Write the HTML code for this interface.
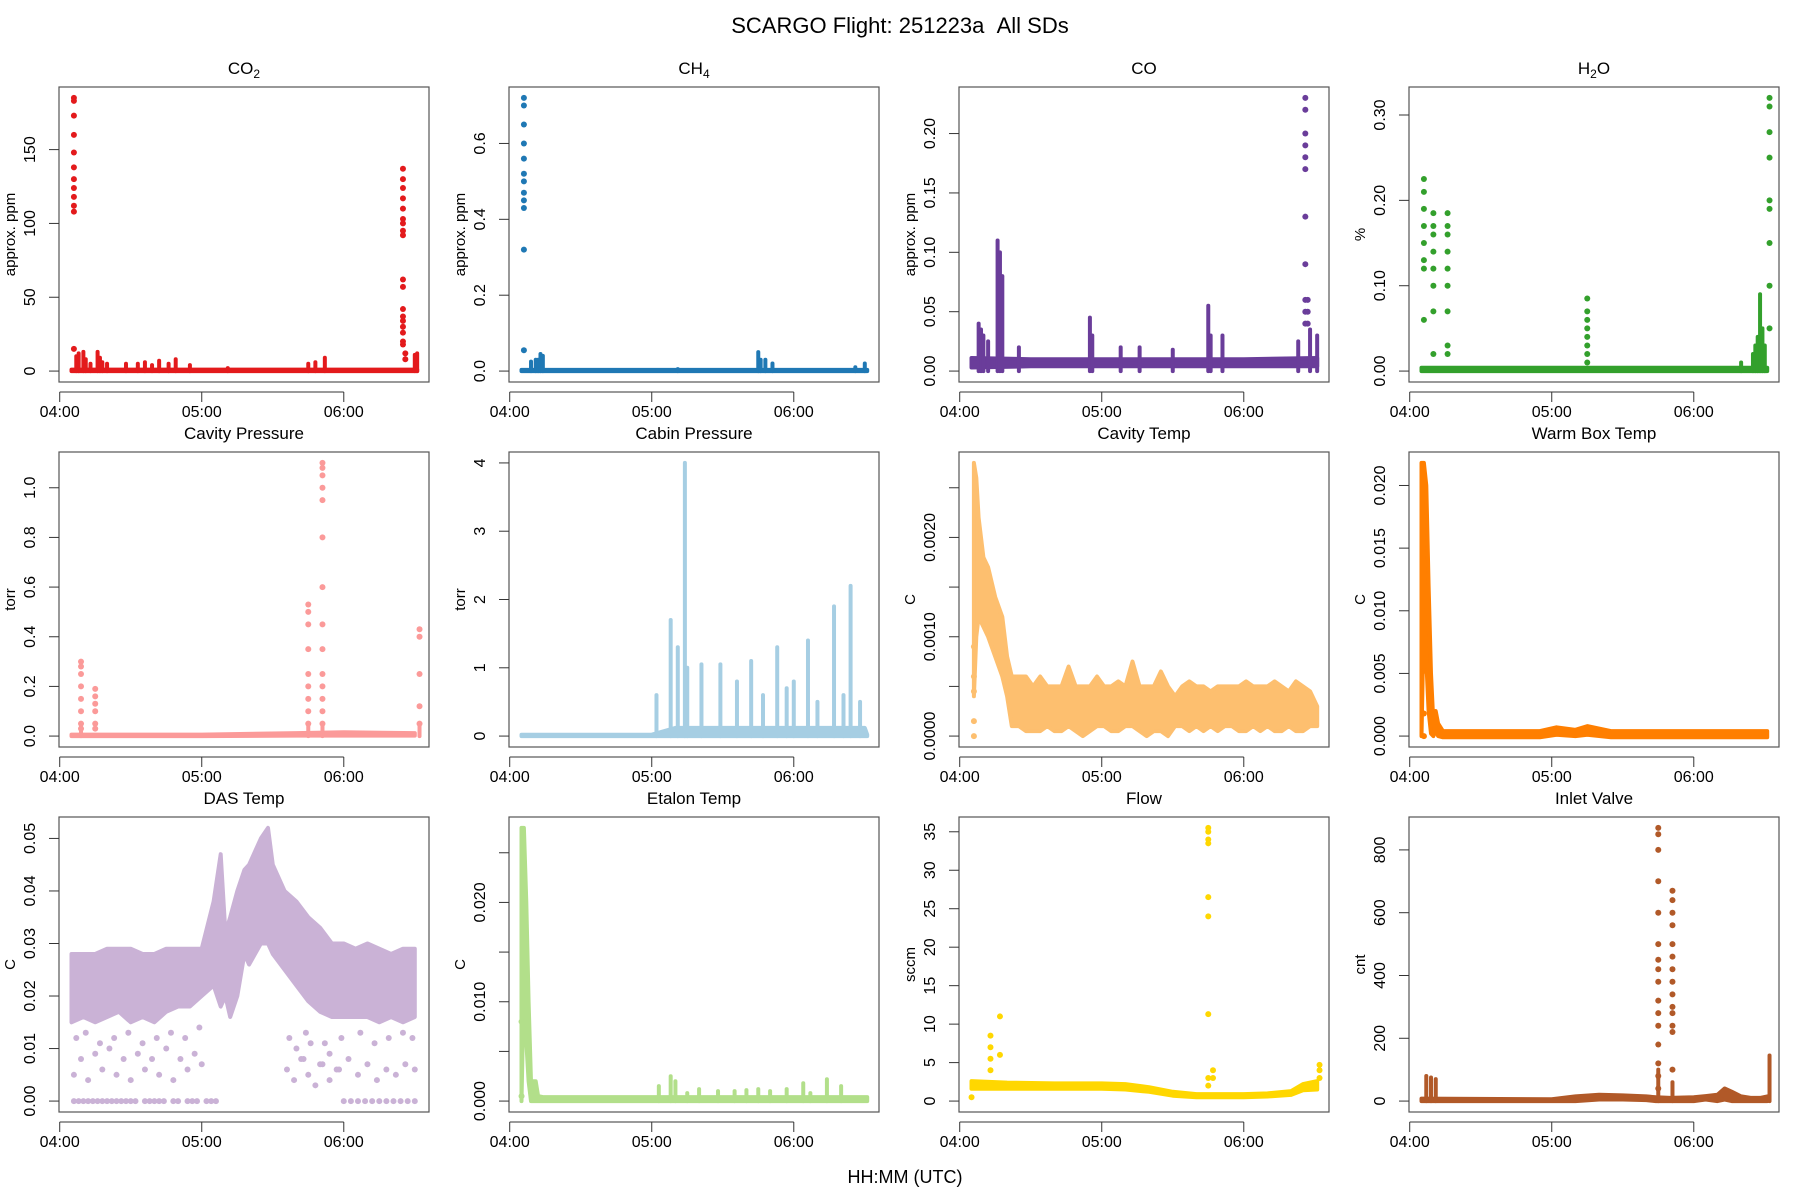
<!DOCTYPE html>
<html><head><meta charset="utf-8"><title>SCARGO Flight 251223a All SDs</title>
<style>
html,body{margin:0;padding:0;background:#fff;}
svg{display:block;font-family:"Liberation Sans",Arial,sans-serif;}
</style></head>
<body>
<svg id="fig" width="1800" height="1200" viewBox="0 0 1800 1200" xmlns="http://www.w3.org/2000/svg">
<rect x="0" y="0" width="1800" height="1200" fill="#fff"/>
<text x="900" y="33" font-size="22" text-anchor="middle" style="white-space:pre">SCARGO Flight: 251223a&#160;&#160;All SDs</text>
<text x="905" y="1183" font-size="18" text-anchor="middle">HH:MM (UTC)</text>
</svg>
<script>
// time in minutes after 04:00
const xTickT = [0, 60, 120];
const xTickLabels = ["04:00", "05:00", "06:00"];

// ---- CO2 ----
const co2BandT = [5, 151];
const co2BandLo = [0, 0];
const co2BandHi = [1, 1];
const co2BarT = [7, 8, 10, 11, 13, 16, 17, 18, 20, 28, 33, 36, 39, 42, 46, 49, 55, 71, 105, 108, 112, 150, 151];
const co2BarV = [10, 12, 13, 8, 5, 13, 9, 6, 5, 5, 5, 6, 4, 7, 5, 8, 4, 2, 5, 6, 9, 11, 12];
const co2DotT = [6,6,6,6,6,6,6,6,6,6,6,6, 145,145,145,145,145,145,145,145,145,145,145,145,145,145,145,145,145,145,146,146];
const co2DotV = [185,183,173,160,148,138,130,124,118,112,108,15, 137,130,124,117,110,103,100,95,92,62,57,42,37,34,30,26,20,18,12,8];

// ---- CH4 ----
const ch4BandT = [5, 151];
const ch4BandLo = [0, 0];
const ch4BandHi = [0.003, 0.003];
const ch4BarT = [9, 11, 12, 13, 14, 71, 105, 106, 108, 111, 146, 150];
const ch4BarV = [0.025, 0.03, 0.03, 0.045, 0.04, 0.005, 0.05, 0.03, 0.03, 0.02, 0.01, 0.02];
const ch4DotT = [6,6,6,6,6,6,6,6,6,6,6,6];
const ch4DotV = [0.72,0.70,0.65,0.60,0.56,0.52,0.50,0.47,0.45,0.43,0.32,0.055];

// ---- CO ----
const coBandT = [5, 30, 60, 90, 120, 151];
const coBandLo = [0.003, 0.004, 0.004, 0.004, 0.004, 0.004];
const coBandHi = [0.011, 0.01, 0.01, 0.01, 0.01, 0.011];
const coBarT = [8, 9, 10, 12, 16, 17, 18, 25, 55, 56, 68, 76, 90, 105, 106, 111, 143, 148, 151];
const coBarV = [0.04, 0.035, 0.03, 0.025, 0.11, 0.1, 0.08, 0.02, 0.045, 0.03, 0.02, 0.02, 0.018, 0.055, 0.03, 0.03, 0.025, 0.035, 0.03];
const coDotT = [146,146,146,146,146,146,146,146,146,146,146,147,147,147];
const coDotV = [0.23,0.22,0.20,0.19,0.18,0.17,0.13,0.09,0.06,0.05,0.04,0.06,0.05,0.04];

// ---- H2O ----
const h2oBandT = [5, 151];
const h2oBandLo = [0, 0];
const h2oBandHi = [0.004, 0.004];
const h2oBarT = [140, 145, 146, 147, 148, 149, 150];
const h2oBarV = [0.01, 0.02, 0.03, 0.04, 0.09, 0.05, 0.03];
const h2oDotT = [6,6,6,6,6,6,6,6, 10,10,10,10,10,10,10,10, 16,16,16,16,16,16,16,16,16, 75,75,75,75,75,75,75,75, 152,152,152,152,152,152,152,152,152];
const h2oDotV = [0.225,0.21,0.19,0.17,0.15,0.13,0.12,0.06, 0.185,0.17,0.16,0.14,0.12,0.10,0.07,0.02, 0.185,0.17,0.16,0.14,0.12,0.10,0.07,0.03,0.02, 0.085,0.07,0.06,0.05,0.04,0.03,0.02,0.01, 0.32,0.31,0.28,0.25,0.20,0.19,0.15,0.10,0.05];

// ---- Cavity Pressure ----
const cpBandT = [5, 60, 100, 120, 150];
const cpBandLo = [0, 0, 0.002, 0.002, 0.002];
const cpBandHi = [0.006, 0.006, 0.012, 0.015, 0.012];
const cpBarT = [9, 105, 111, 152];
const cpBarV = [0.04, 0.05, 0.05, 0.04];
const cpDotT = [9,9,9,9,9,9,9,9, 15,15,15,15,15,15, 105,105,105,105,105,105,105,105,105, 111,111,111,111,111,111,111,111,111,111,111,111,111,111, 152,152,152,152,152];
const cpDotV = [0.30,0.28,0.25,0.20,0.15,0.10,0.05,0.03, 0.19,0.16,0.13,0.10,0.05,0.03, 0.53,0.50,0.45,0.35,0.25,0.20,0.15,0.10,0.05, 1.10,1.08,1.05,1.00,0.95,0.80,0.60,0.45,0.35,0.25,0.20,0.15,0.10,0.05, 0.43,0.40,0.25,0.12,0.05];

// ---- Cabin Pressure ----
const cabBandT = [5, 60, 70, 150, 151];
const cabBandLo = [0, 0, 0, 0, 0];
const cabBandHi = [0.02, 0.02, 0.12, 0.12, 0.02];
const cabBarT = [62, 68, 71, 74, 75, 81, 89, 96, 102, 107, 113, 117, 120, 126, 130, 137, 141, 144, 148];
const cabBarV = [0.6, 1.7, 1.3, 4.0, 1.0, 1.05, 1.05, 0.8, 1.1, 0.6, 1.3, 0.7, 0.8, 1.4, 0.5, 1.9, 0.6, 2.2, 0.5];
const cabDotT = [];
const cabDotV = [];

// ---- Cavity Temp ----
const ctBandT = [6, 7, 8, 10, 12, 15, 18, 20, 22, 25, 28, 31, 34, 37, 40, 43, 46, 49, 52, 55, 58, 61, 64, 67, 70, 73, 76, 79, 82, 85, 88, 91, 94, 97, 100, 103, 106, 109, 112, 115, 118, 121, 124, 127, 130, 133, 136, 139, 142, 145, 148, 151];
const ctBandLo = [0.0004, 0.0010, 0.0012, 0.0011, 0.0010, 0.0008, 0.0006, 0.0004, 0.0001, 0.0001, 0.00005, 0.00005, 0.00005, 0.0001, 0.00005, 0.00005, 0.0001, 0.00005, 0.0, 0.00005, 0.0001, 0.0001, 0.00005, 0.00005, 0.0001, 0.0001, 0.00005, 0.0, 0.00005, 0.00005, 0.0, 0.0001, 0.0001, 0.00005, 0.0001, 0.00005, 0.0001, 0.00005, 0.0001, 0.0001, 0.00005, 0.00005, 0.0001, 0.00005, 0.0001, 0.00005, 0.00005, 0.0001, 0.00005, 0.00005, 0.0001, 0.0001];
const ctBandHi = [0.00275, 0.0026, 0.0022, 0.0018, 0.0017, 0.0014, 0.0012, 0.0008, 0.0006, 0.0006, 0.0006, 0.0005, 0.0006, 0.0005, 0.0005, 0.0005, 0.0007, 0.0005, 0.0005, 0.0005, 0.0006, 0.0005, 0.0005, 0.00055, 0.0005, 0.00075, 0.0005, 0.0005, 0.0005, 0.00065, 0.0005, 0.0004, 0.0005, 0.00055, 0.0005, 0.0005, 0.00045, 0.0005, 0.0005, 0.0005, 0.0005, 0.00055, 0.0005, 0.0005, 0.0005, 0.00055, 0.0005, 0.00045, 0.00055, 0.0005, 0.00045, 0.0003];
const ctDotT = [6, 6, 6, 6, 6];
const ctDotV = [0.0, 0.00015, 0.00045, 0.0006, 0.0009];

// ---- Warm Box Temp ----
const wbBandT = [5, 6, 7, 8, 9, 10, 11, 12, 14, 30, 55, 62, 70, 75, 85, 120, 151];
const wbBandLo = [0.0, 0.010, 0.006, 0.002, 0.0002, 0.0, 0.0005, 0.0, -0.0001, -0.0001, -0.0001, 0.0001, 0.0, 0.0001, -0.0001, -0.0001, -0.0001];
const wbBandHi = [0.0218, 0.0218, 0.02, 0.012, 0.005, 0.001, 0.002, 0.001, 0.0004, 0.0004, 0.0004, 0.0007, 0.0005, 0.0008, 0.0004, 0.0004, 0.0004];
const wbBarT = [];
const wbBarV = [];
const wbDotT = [6, 6, 6];
const wbDotV = [0.0, 0.0018, 0.0052];

// ---- DAS Temp ----
const dasBandT = [5, 10, 15, 20, 25, 30, 35, 40, 45, 50, 55, 60, 65, 68, 70, 72, 75, 78, 80, 85, 88, 90, 95, 100, 105, 110, 115, 120, 125, 130, 135, 140, 145, 150];
const dasBandLo = [0.015, 0.016, 0.015, 0.016, 0.017, 0.015, 0.016, 0.015, 0.017, 0.018, 0.018, 0.02, 0.022, 0.018, 0.02, 0.016, 0.02, 0.028, 0.026, 0.03, 0.03, 0.028, 0.025, 0.022, 0.019, 0.017, 0.016, 0.016, 0.016, 0.016, 0.015, 0.016, 0.015, 0.016];
const dasBandHi = [0.028, 0.028, 0.028, 0.029, 0.029, 0.029, 0.028, 0.028, 0.029, 0.029, 0.029, 0.029, 0.038, 0.047, 0.032, 0.035, 0.04, 0.044, 0.045, 0.05, 0.052, 0.045, 0.04, 0.038, 0.035, 0.033, 0.03, 0.03, 0.029, 0.03, 0.029, 0.028, 0.029, 0.029];
const dasBarT = [];
const dasBarV = [];
const dasDotT = [6,8,10,12,14,16,18,20,22,24,26,28,30,32,36,38,40,42,44,48,50,54,56,58,62,64,66, 6,9,12,15,18,21,24,27,30,33,36,39,42,45,48,51,54,57,60, 96,99,102,105,108,111,114,117,120,123,126,129,132,135,138,141,144,147,150, 100,103,106,110,114,118,122,126,130,134,138,142,146,150, 7,11,17,23,29,35,41,47,53,59, 97,104,112,119,127,133,139,145,149];
const dasDotV = [0,0,0,0,0,0,0,0,0,0,0,0,0,0,0,0,0,0,0,0,0,0,0,0,0,0,0, 0.005,0.008,0.004,0.009,0.006,0.01,0.005,0.008,0.004,0.009,0.006,0.008,0.005,0.01,0.004,0.008,0.006,0.009,0.007, 0.006,0.004,0.008,0.005,0.003,0.007,0.004,0.006,0.0,0.0,0.0,0.0,0.0,0.0,0.0,0.0,0.0,0.0,0.0, 0.01,0.008,0.011,0.007,0.009,0.006,0.008,0.005,0.007,0.004,0.006,0.005,0.007,0.006, 0.012,0.013,0.011,0.012,0.013,0.011,0.012,0.013,0.012,0.014, 0.012,0.013,0.011,0.012,0.013,0.011,0.012,0.013,0.012];

// ---- Etalon Temp ----
const etBandT = [5, 6, 7, 8, 9, 10, 11, 12, 14, 60, 151];
const etBandLo = [0.0, 0.012, 0.006, 0.002, 0.0, 0.0, 0.0, 0.0, 0.0, 0.0, 0.0];
const etBandHi = [0.0275, 0.0275, 0.02, 0.01, 0.002, 0.002, 0.002, 0.0005, 0.0004, 0.0004, 0.0004];
const etBarT = [63, 68, 70, 75, 80, 88, 95, 100, 105, 110, 117, 124, 127, 134, 140];
const etBarV = [0.0015, 0.0025, 0.002, 0.0008, 0.0012, 0.001, 0.001, 0.0011, 0.0012, 0.001, 0.0012, 0.0018, 0.0008, 0.0022, 0.0015];
const etDotT = [5, 5];
const etDotV = [0.0005, 0.008];

// ---- Flow ----
const flBandT = [5, 20, 40, 60, 70, 80, 90, 100, 110, 120, 130, 140, 145, 151];
const flBandLo = [1.6, 1.6, 1.6, 1.6, 1.5, 1.2, 0.7, 0.5, 0.5, 0.5, 0.6, 0.8, 1.4, 1.5];
const flBandHi = [2.6, 2.4, 2.3, 2.3, 2.2, 1.8, 1.2, 0.9, 0.9, 0.9, 1.0, 1.3, 2.2, 2.6];
const flBarT = [];
const flBarV = [];
const flDotT = [5, 13,13,13,13, 17,17, 105,105,105,105,105,105,105,105,105, 107,107, 152,152,152];
const flDotV = [0.5, 8.5,7,5.5,4, 11,6, 35.5,35,34,33.5,26.5,24,11.3,3,2, 4,3, 4.7,4,3];

// ---- Inlet Valve ----
const ivBandT = [5, 60, 70, 80, 90, 100, 104, 110, 120, 125, 130, 133, 136, 140, 144, 148, 151];
const ivBandLo = [0, 0, 0, 5, 5, 3, 0, 0, 0, 5, 0, 5, 0, 0, 0, 0, 0];
const ivBandHi = [8, 6, 15, 20, 18, 15, 12, 10, 12, 16, 20, 40, 30, 15, 10, 10, 15];
const ivBarT = [7, 9, 11, 105, 111, 152];
const ivBarV = [80, 75, 70, 100, 60, 145];
const ivDotT = [105,105,105,105,105,105,105,105,105,105,105,105,105,105,105,105, 111,111,111,111,111,111,111,111,111,111,111,111,111,111];
const ivDotV = [870,850,800,700,600,500,450,420,380,320,280,240,180,120,80,40, 670,640,600,560,500,460,420,380,340,300,280,240,220,100];

// y-axis tick values & labels
const co2Ticks = [0, 50, 100, 150];           const co2TickLabels = ["0", "50", "100", "150"];
const ch4Ticks = [0, 0.2, 0.4, 0.6];          const ch4TickLabels = ["0.0", "0.2", "0.4", "0.6"];
const coTicks = [0, 0.05, 0.1, 0.15, 0.2];    const coTickLabels = ["0.00", "0.05", "0.10", "0.15", "0.20"];
const h2oTicks = [0, 0.1, 0.2, 0.3];          const h2oTickLabels = ["0.00", "0.10", "0.20", "0.30"];
const cpTicks = [0, 0.2, 0.4, 0.6, 0.8, 1.0]; const cpTickLabels = ["0.0", "0.2", "0.4", "0.6", "0.8", "1.0"];
const cabTicks = [0, 1, 2, 3, 4];             const cabTickLabels = ["0", "1", "2", "3", "4"];
const ctTicks = [0, 0.0005, 0.001, 0.0015, 0.002, 0.0025]; const ctTickLabels = ["0.0000", "", "0.0010", "", "0.0020", ""];
const wbTicks = [0, 0.005, 0.01, 0.015, 0.02]; const wbTickLabels = ["0.000", "0.005", "0.010", "0.015", "0.020"];
const dasTicks = [0, 0.01, 0.02, 0.03, 0.04, 0.05]; const dasTickLabels = ["0.00", "0.01", "0.02", "0.03", "0.04", "0.05"];
const etTicks = [0, 0.005, 0.01, 0.015, 0.02, 0.025]; const etTickLabels = ["0.000", "", "0.010", "", "0.020", ""];
const flTicks = [0, 5, 10, 15, 20, 25, 30, 35]; const flTickLabels = ["0", "5", "10", "15", "20", "25", "30", "35"];
const ivTicks = [0, 200, 400, 600, 800];      const ivTickLabels = ["0", "200", "400", "600", "800"];

const panels = [
 {name:"co2", title:["CO","2",""], ylab:"approx. ppm", color:"#E31A1C", ymin:0, ymax:185, ticks:co2Ticks, tl:co2TickLabels, bT:co2BandT, bLo:co2BandLo, bHi:co2BandHi, barT:co2BarT, barV:co2BarV, dT:co2DotT, dV:co2DotV},
 {name:"ch4", title:["CH","4",""], ylab:"approx. ppm", color:"#1F78B4", ymin:0, ymax:0.72, ticks:ch4Ticks, tl:ch4TickLabels, bT:ch4BandT, bLo:ch4BandLo, bHi:ch4BandHi, barT:ch4BarT, barV:ch4BarV, dT:ch4DotT, dV:ch4DotV},
 {name:"co", title:["CO","",""], ylab:"approx. ppm", color:"#6A3D9A", ymin:0, ymax:0.23, ticks:coTicks, tl:coTickLabels, bT:coBandT, bLo:coBandLo, bHi:coBandHi, barT:coBarT, barV:coBarV, dT:coDotT, dV:coDotV},
 {name:"h2o", title:["H","2","O"], ylab:"%", color:"#33A02C", ymin:0, ymax:0.32, ticks:h2oTicks, tl:h2oTickLabels, bT:h2oBandT, bLo:h2oBandLo, bHi:h2oBandHi, barT:h2oBarT, barV:h2oBarV, dT:h2oDotT, dV:h2oDotV},
 {name:"cavity-pressure", title:["Cavity Pressure","",""], ylab:"torr", color:"#FB9A99", ymin:0, ymax:1.10, ticks:cpTicks, tl:cpTickLabels, bT:cpBandT, bLo:cpBandLo, bHi:cpBandHi, barT:cpBarT, barV:cpBarV, dT:cpDotT, dV:cpDotV},
 {name:"cabin-pressure", title:["Cabin Pressure","",""], ylab:"torr", color:"#A6CEE3", ymin:0, ymax:4.0, ticks:cabTicks, tl:cabTickLabels, bT:cabBandT, bLo:cabBandLo, bHi:cabBandHi, barT:cabBarT, barV:cabBarV, dT:cabDotT, dV:cabDotV},
 {name:"cavity-temp", title:["Cavity Temp","",""], ylab:"C", color:"#FDBF6F", ymin:0, ymax:0.00275, ticks:ctTicks, tl:ctTickLabels, bT:ctBandT, bLo:ctBandLo, bHi:ctBandHi, barT:[], barV:[], dT:ctDotT, dV:ctDotV},
 {name:"warm-box-temp", title:["Warm Box Temp","",""], ylab:"C", color:"#FF7F00", ymin:0, ymax:0.0218, ticks:wbTicks, tl:wbTickLabels, bT:wbBandT, bLo:wbBandLo, bHi:wbBandHi, barT:wbBarT, barV:wbBarV, dT:wbDotT, dV:wbDotV},
 {name:"das-temp", title:["DAS Temp","",""], ylab:"C", color:"#CAB2D6", ymin:0, ymax:0.052, ticks:dasTicks, tl:dasTickLabels, bT:dasBandT, bLo:dasBandLo, bHi:dasBandHi, barT:dasBarT, barV:dasBarV, dT:dasDotT, dV:dasDotV},
 {name:"etalon-temp", title:["Etalon Temp","",""], ylab:"C", color:"#B2DF8A", ymin:0, ymax:0.0275, ticks:etTicks, tl:etTickLabels, bT:etBandT, bLo:etBandLo, bHi:etBandHi, barT:etBarT, barV:etBarV, dT:etDotT, dV:etDotV},
 {name:"flow", title:["Flow","",""], ylab:"sccm", color:"#FFD700", ymin:0, ymax:35.5, ticks:flTicks, tl:flTickLabels, bT:flBandT, bLo:flBandLo, bHi:flBandHi, barT:flBarT, barV:flBarV, dT:flDotT, dV:flDotV},
 {name:"inlet-valve", title:["Inlet Valve","",""], ylab:"cnt", color:"#B15928", ymin:0, ymax:870, ticks:ivTicks, tl:ivTickLabels, bT:ivBandT, bLo:ivBandLo, bHi:ivBandHi, barT:ivBarT, barV:ivBarV, dT:ivDotT, dV:ivDotV}
];

const NS = "http://www.w3.org/2000/svg";
const svg = document.getElementById("fig");
function mk(tag, attrs, parent){
  const e = document.createElementNS(NS, tag);
  for (const k in attrs) e.setAttribute(k, attrs[k]);
  (parent||svg).appendChild(e);
  return e;
}
const BOX_W = 370, BOX_H = 295;
const XMIN = -0.3, XMAX = 156;

panels.forEach((p, i) => {
  const col = i % 4, row = Math.floor(i / 4);
  const L = 59 + col * 450, T = 87 + row * 365, B = T + BOX_H, R = L + BOX_W;
  const xs = t => L + (t - XMIN) / (XMAX - XMIN) * BOX_W;
  const rng = p.ymax - p.ymin;
  const lo = p.ymin - 0.04 * rng, hi = p.ymax + 0.04 * rng;
  const ys = v => B - (v - lo) / (hi - lo) * BOX_H;

  const g = mk("g", {});
  
  

  const tt = mk("text", {x: L + BOX_W/2, y: T - 13, "font-size": 17, "text-anchor": "middle"}, g);
  
  
  tt.appendChild(document.createTextNode(p.title[0]));
  if (p.title[1]) {
    const s = mk("tspan", {"font-size": 12, dy: 4}, tt);
    s.textContent = p.title[1];
    if (p.title[2]) { const s2 = mk("tspan", {dy: -4, "font-size": 17}, tt); s2.textContent = p.title[2]; }
  }

  const cid = "clip" + i;
  const cp = mk("clipPath", {id: cid}, g);
  mk("rect", {x: L, y: T, width: BOX_W, height: BOX_H}, cp);
  const data = mk("g", {"clip-path": "url(#" + cid + ")"}, g);
  
  

  if (p.bT.length) {
    let pts = [];
    for (let k = 0; k < p.bT.length; k++) pts.push(xs(p.bT[k]).toFixed(1) + "," + ys(p.bHi[k]).toFixed(1));
    for (let k = p.bT.length - 1; k >= 0; k--) pts.push(xs(p.bT[k]).toFixed(1) + "," + ys(p.bLo[k]).toFixed(1));
    const band = mk("polygon", {points: pts.join(" "), fill: p.color, stroke: p.color, "stroke-width": 4, "stroke-linejoin": "round"}, data);
    
    
  }
  for (let k = 0; k < p.barT.length; k++) {
    const x = xs(p.barT[k]);
    const bar = mk("line", {x1: x, x2: x, y1: ys(0), y2: ys(p.barV[k]), stroke: p.color, "stroke-width": 4, "stroke-linecap": "round"}, data);
    
    
  }
  for (let k = 0; k < p.dT.length; k++) {
    const c = mk("circle", {cx: xs(p.dT[k]), cy: ys(p.dV[k]), r: 3, fill: p.color}, data);
    
    
  }

  const box = mk("rect", {x: L, y: T, width: BOX_W, height: BOX_H, fill: "none", stroke: "#555", "stroke-width": 1.2}, g);
  
  

  const xa = mk("g", {}, g);
  
  
  mk("line", {x1: xs(xTickT[0]), x2: xs(xTickT[xTickT.length-1]), y1: B + 10, y2: B + 10, stroke: "#333", "stroke-width": 1}, xa);
  xTickT.forEach((t, k) => {
    mk("line", {x1: xs(t), x2: xs(t), y1: B + 10, y2: B + 20, stroke: "#333", "stroke-width": 1}, xa);
    const lab = mk("text", {x: xs(t), y: B + 35, "font-size": 16, "text-anchor": "middle"}, xa);
    
    
    lab.textContent = xTickLabels[k];
  });

  const ya = mk("g", {}, g);
  
  
  p.ticks.forEach((v, k) => {
    mk("line", {x1: L - 10, x2: L, y1: ys(v), y2: ys(v), stroke: "#333", "stroke-width": 1}, ya);
    if (p.tl[k]) {
      const lab = mk("text", {x: L - 24, y: ys(v), "font-size": 16, "text-anchor": "middle", transform: "rotate(-90 " + (L - 24) + " " + ys(v) + ")"}, ya);
      
      
      lab.textContent = p.tl[k];
    }
  });
  const yl = mk("text", {x: L - 44, y: T + BOX_H/2, "font-size": 15, "text-anchor": "middle", transform: "rotate(-90 " + (L - 44) + " " + (T + BOX_H/2) + ")"}, ya);
  
  
  yl.textContent = p.ylab;
});
</script>
</body></html>
